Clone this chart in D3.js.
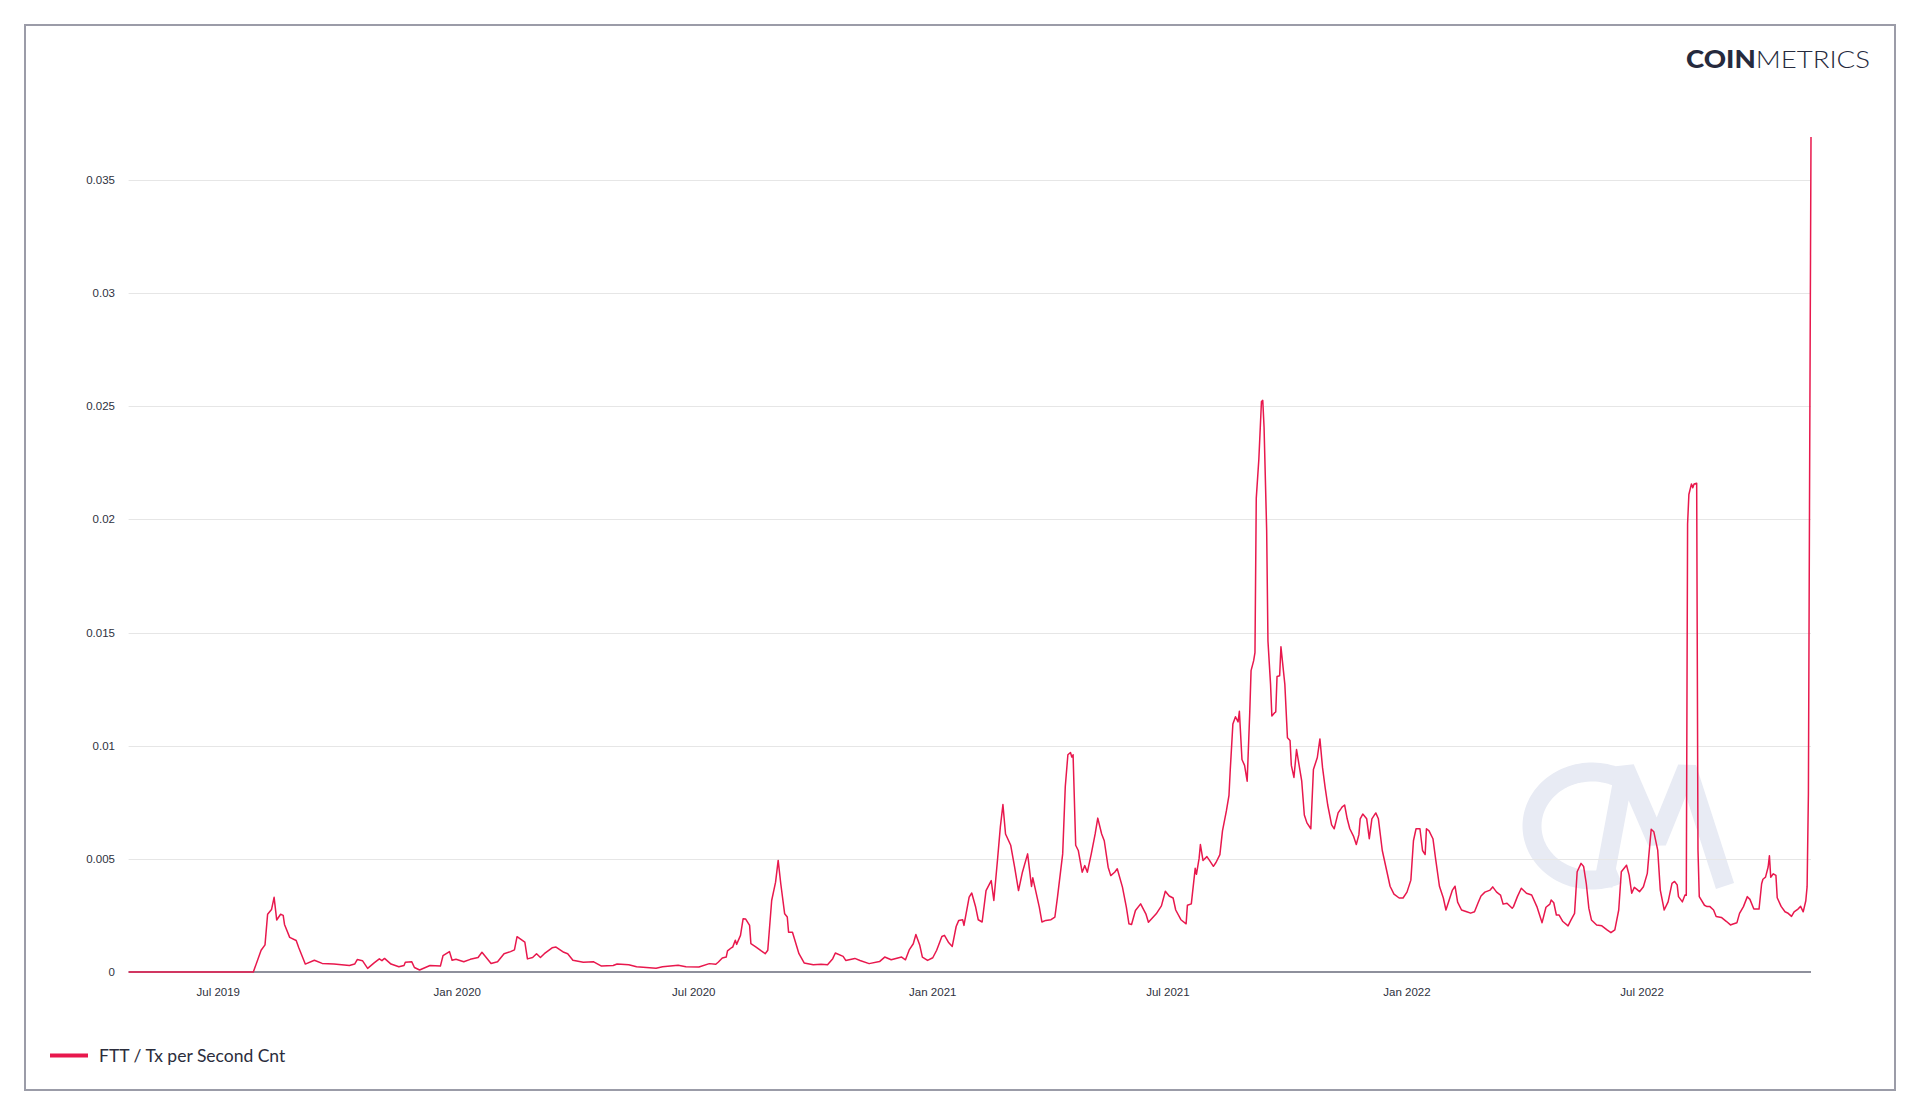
<!DOCTYPE html>
<html>
<head>
<meta charset="utf-8">
<script src="https://cdn.jsdelivr.net/npm/d3@7"></script>
<style>
  html, body { margin: 0; padding: 0; background: #ffffff; }
  svg { display: block; }
</style>
</head>
<body>
<svg id="chart" width="1920" height="1115"></svg>
<script>
// ---- DATA ----
const seriesName = "FTT / Tx per Second Cnt";
const baseDate = "2019-07-01"; // day offsets below are counted from this date
const dayOffsets = [
  -69, 27, 33, 36, 38, 41, 43, 45, 48, 50, 51, 55, 60, 62, 67, 74, 80, 89, 101, 105,
  107, 111, 115, 120, 124, 126, 128, 133, 139, 143, 144, 149, 151, 155, 163, 171, 173, 178, 180, 183,
  189, 194, 200, 203, 210, 215, 220, 225, 228, 230, 236, 238, 242, 245, 248, 251, 257, 260, 266, 269,
  273, 281, 289, 295, 304, 307, 316, 322, 337, 342, 354, 360, 370, 378, 383, 385, 388, 391, 392, 395,
  396, 398, 399, 402, 404, 406, 409, 410, 414, 418, 421, 423, 426, 429, 431, 433, 436, 438, 439, 442,
  447, 451, 458, 464, 469, 473, 475, 481, 483, 490, 494, 501, 509, 513, 518, 526, 529, 532, 535, 537,
  540, 542, 546, 550, 553, 557, 559, 562, 565, 568, 570, 573, 574, 578, 580, 583, 585, 588, 591, 595,
  597, 600, 602, 604, 606, 610, 613, 616, 619, 623, 626, 627, 632, 634, 637, 641, 644, 646, 650, 652,
  654, 656, 657, 658, 660, 662, 665, 667, 669, 672, 675, 677, 680, 682, 685, 687, 690, 692, 696, 699,
  701, 703, 706, 710, 714, 716, 722, 726, 729, 732, 735, 737, 741, 745, 746, 749, 752, 753, 755, 756,
  758, 761, 763, 766, 768, 771, 773, 776, 778, 779, 781, 783, 785, 786, 788, 790, 792, 794, 795, 797,
  798, 799, 801, 803, 804, 805, 807, 808, 810, 811, 813, 814, 815, 817, 818, 821, 823, 825, 826, 828,
  830, 832, 834, 836, 838, 841, 843, 846, 848, 850, 852, 854, 857, 859, 862, 864, 865, 867, 869, 871,
  874, 876, 878, 879, 881, 884, 886, 888, 891, 893, 896, 900, 902, 905, 909, 912, 915, 918, 920, 922,
  925, 927, 929, 930, 932, 935, 937, 940, 943, 945, 948, 950, 952, 954, 957, 961, 964, 967, 970, 972,
  975, 979, 981, 984, 987, 989, 992, 996, 997, 1000, 1003, 1007, 1011, 1015, 1019, 1022, 1025, 1026, 1028, 1030,
  1032, 1035, 1039, 1041, 1044, 1046, 1049, 1051, 1053, 1055, 1057, 1061, 1065, 1069, 1072, 1075, 1078, 1080, 1084, 1086,
  1088, 1090, 1092, 1094, 1097, 1100, 1101, 1103, 1105, 1108, 1110, 1113, 1116, 1119, 1121, 1123, 1124, 1127, 1129, 1130,
  1131, 1132, 1134, 1135, 1136, 1138, 1139, 1140, 1144, 1146, 1148, 1151, 1153, 1157, 1161, 1164, 1166, 1169, 1171, 1174,
  1177, 1179, 1182, 1186, 1188, 1189, 1191, 1193, 1194, 1195, 1197, 1199, 1200, 1203, 1206, 1208, 1211, 1213, 1216, 1218,
  1220, 1222, 1223, 1224, 1225, 1226
];
const values = [
  0, 0, 0.00096, 0.0012, 0.00255, 0.00276, 0.0033, 0.0023, 0.00255, 0.0025, 0.0021, 0.00153, 0.00139, 0.00107, 0.00035, 0.00052, 0.00038, 0.00035, 0.00029, 0.00035,
  0.00055, 0.0005, 0.00016, 0.0004, 0.00058, 0.0005, 0.0006, 0.00035, 0.00023, 0.00029, 0.00043, 0.00045, 0.0002, 0.00009, 0.00029, 0.00026, 0.00072, 0.0009, 0.00052, 0.00056,
  0.00045, 0.00056, 0.00064, 0.00087, 0.00038, 0.00045, 0.00081, 0.0009, 0.00098, 0.00156, 0.00132, 0.00058, 0.00064, 0.00081, 0.00064, 0.00081, 0.00107, 0.0011, 0.00087, 0.00081,
  0.00052, 0.00043, 0.00045, 0.00026, 0.00029, 0.00035, 0.00032, 0.00023, 0.00017, 0.00023, 0.0003, 0.00023, 0.00022, 0.00037, 0.00034, 0.00044, 0.00062, 0.00066, 0.00093, 0.00107,
  0.0011, 0.0014, 0.00122, 0.00162, 0.00235, 0.00234, 0.00206, 0.00125, 0.0011, 0.00093, 0.00081, 0.00096, 0.00316, 0.00397, 0.00493, 0.0039, 0.00257, 0.00243, 0.00176, 0.00176,
  0.00081, 0.0004, 0.00032, 0.00034, 0.00032, 0.00059, 0.00084, 0.00069, 0.00051, 0.0006, 0.00051, 0.00037, 0.00046, 0.00066, 0.00054, 0.00066, 0.00054, 0.00099, 0.00125, 0.00166,
  0.00118, 0.00066, 0.00051, 0.00063, 0.00096, 0.00157, 0.00162, 0.00132, 0.00113, 0.00201, 0.00228, 0.00231, 0.00206, 0.00331, 0.00349, 0.00287, 0.00231, 0.00221, 0.0036, 0.00404,
  0.00316, 0.00507, 0.0064, 0.0074, 0.0061, 0.0056, 0.00463, 0.0036, 0.00441, 0.00522, 0.00378, 0.00416, 0.00287, 0.00221, 0.00228, 0.00231, 0.00243, 0.00331, 0.00522, 0.0082,
  0.0096, 0.0097, 0.0095, 0.0096, 0.0056, 0.00537, 0.00441, 0.0047, 0.00441, 0.00522, 0.0061, 0.0068, 0.0061, 0.0058, 0.00463, 0.00426, 0.00441, 0.00456, 0.00375, 0.00287,
  0.00213, 0.0021, 0.00272, 0.00301, 0.00257, 0.0022, 0.00257, 0.00292, 0.00357, 0.00336, 0.00327, 0.00274, 0.00231, 0.00213, 0.00295, 0.00301, 0.00458, 0.00432, 0.00502, 0.00563,
  0.00493, 0.0051, 0.00493, 0.00467, 0.00484, 0.00519, 0.00624, 0.00712, 0.00781, 0.00895, 0.01096, 0.01128, 0.01105, 0.01152, 0.00939, 0.00913, 0.00843, 0.01149, 0.01332, 0.01376,
  0.01411, 0.02093, 0.02267, 0.02521, 0.02526, 0.02407, 0.01953, 0.01463, 0.01271, 0.01131, 0.01145, 0.01149, 0.01306, 0.01309, 0.01437, 0.01271, 0.01035, 0.01023, 0.00913, 0.0086,
  0.00983, 0.00913, 0.00843, 0.00694, 0.00659, 0.00633, 0.00895, 0.00948, 0.0103, 0.00904, 0.00816, 0.00738, 0.0065, 0.00633, 0.00703, 0.0072, 0.00729, 0.00738, 0.00677, 0.00633,
  0.00598, 0.00563, 0.00607, 0.00677, 0.00698, 0.00677, 0.00589, 0.00677, 0.00703, 0.00677, 0.00537, 0.00432, 0.00379, 0.00344, 0.00327, 0.00327, 0.00353, 0.00406, 0.0058, 0.00633,
  0.00633, 0.00537, 0.00519, 0.00633, 0.00624, 0.00589, 0.00502, 0.00379, 0.00327, 0.00274, 0.00327, 0.00362, 0.00379, 0.00309, 0.00274, 0.00266, 0.0026, 0.00266, 0.00309, 0.00336,
  0.00353, 0.00362, 0.00376, 0.00353, 0.0034, 0.003, 0.00304, 0.00282, 0.00289, 0.00333, 0.0037, 0.00348, 0.0034, 0.00289, 0.00218, 0.00286, 0.003, 0.00318, 0.00306, 0.00252,
  0.00252, 0.00223, 0.00204, 0.00227, 0.00259, 0.00443, 0.0048, 0.00466, 0.00392, 0.00282, 0.0023, 0.00208, 0.00204, 0.00186, 0.00174, 0.00186, 0.00274, 0.00443, 0.00472, 0.00428,
  0.00348, 0.00374, 0.00365, 0.00355, 0.00377, 0.00436, 0.00503, 0.00631, 0.0062, 0.00539, 0.00362, 0.00274, 0.0031, 0.00392, 0.004, 0.00385, 0.00333, 0.0031, 0.0034, 0.00339,
  0.0198, 0.0211, 0.02157, 0.0214, 0.02157, 0.0216, 0.0054, 0.00333, 0.00295, 0.00289, 0.0029, 0.00274, 0.00245, 0.00241, 0.00223, 0.00208, 0.00212, 0.00218, 0.00259, 0.00289,
  0.00333, 0.00321, 0.00278, 0.00278, 0.0039, 0.0041, 0.00419, 0.00464, 0.00514, 0.00419, 0.00434, 0.00427, 0.00328, 0.0029, 0.00266, 0.00261, 0.00246, 0.00266, 0.00278, 0.0029,
  0.00266, 0.00315, 0.00377, 0.00787, 0.0228, 0.0369
];
const yTickValues = [0, 0.005, 0.01, 0.015, 0.02, 0.025, 0.03, 0.035];
const yTickLabels = ["0", "0.005", "0.01", "0.015", "0.02", "0.025", "0.03", "0.035"];
const xTickDates = ["2019-07-01", "2020-01-01", "2020-07-01", "2021-01-01", "2021-07-01", "2022-01-01", "2022-07-01"];
const xTickLabels = ["Jul 2019", "Jan 2020", "Jul 2020", "Jan 2021", "Jul 2021", "Jan 2022", "Jul 2022"];

// ---- CHART ----
const svg = d3.select("#chart");
const parse = d3.utcParse("%Y-%m-%d");
const base = parse(baseDate);
const data = dayOffsets.map((d, i) => ({ date: d3.utcDay.offset(base, d), value: values[i] }));

const plot = { left: 128.6, right: 1811, zeroY: 972, topY: 180 };
const x = d3.scaleUtc()
  .domain(d3.extent(data, d => d.date))
  .range([plot.left, plot.right]);
const y = d3.scaleLinear().domain([0, 0.035]).range([plot.zeroY, plot.topY]);

// frame
svg.append("rect")
  .attr("x", 25).attr("y", 25).attr("width", 1870).attr("height", 1065)
  .attr("fill", "#fff").attr("stroke", "#9b9ca8").attr("stroke-width", 2);

// watermark "CM"
const wm = svg.append("g").attr("fill", "none").attr("stroke", "#e8ebf4").attr("stroke-width", 19);
const cx = 1592, cy = 826, rx = 60, ry = 54;
const arcPts = d3.range(62, 299, 3).map(a => {
  const t = a * Math.PI / 180;
  return [cx + rx * Math.cos(t), cy - ry * Math.sin(t)];
});
wm.append("path").attr("d", d3.line()(arcPts));
wm.append("path")
  .attr("stroke-linejoin", "bevel")
  .attr("d", d3.line()([[1603, 886], [1625, 768], [1657, 842], [1687, 768], [1725, 886]]));

// grid lines
svg.append("g").selectAll("line")
  .data(yTickValues.filter(v => v > 0))
  .join("line")
  .attr("x1", plot.left).attr("x2", plot.right)
  .attr("y1", d => Math.round(y(d)) + 0.5).attr("y2", d => Math.round(y(d)) + 0.5)
  .attr("stroke", "#e6e6e6").attr("stroke-width", 1);

// y labels
svg.append("g").selectAll("text")
  .data(yTickValues)
  .join("text")
  .attr("x", 115).attr("y", d => y(d)).attr("dy", "0.35em")
  .attr("text-anchor", "end")
  .attr("font-family", "'Liberation Sans', Arial, sans-serif")
  .attr("font-size", 11.5)
  .attr("fill", "#2e3140")
  .text((d, i) => yTickLabels[i]);

// x axis line
svg.append("line")
  .attr("x1", plot.left).attr("x2", plot.right)
  .attr("y1", plot.zeroY).attr("y2", plot.zeroY)
  .attr("stroke", "#8e909c").attr("stroke-width", 2);

// x labels
svg.append("g").selectAll("text")
  .data(xTickDates)
  .join("text")
  .attr("x", d => x(parse(d))).attr("y", 996)
  .attr("text-anchor", "middle")
  .attr("font-family", "'Liberation Sans', Arial, sans-serif")
  .attr("font-size", 11.5)
  .attr("fill", "#2e3140")
  .text((d, i) => xTickLabels[i]);

// data line
svg.append("path")
  .datum(data)
  .attr("fill", "none")
  .attr("stroke", "#e8184d")
  .attr("stroke-width", 1.5)
  .attr("stroke-linejoin", "round")
  .attr("d", d3.line().x(d => x(d.date)).y(d => y(d.value)));

// legend
svg.append("line")
  .attr("x1", 50).attr("x2", 88).attr("y1", 1055.5).attr("y2", 1055.5)
  .attr("stroke", "#e8184d").attr("stroke-width", 4);
svg.append("text")
  .attr("x", 99).attr("y", 1056).attr("dy", "0.35em")
  .attr("font-family", "Lato, sans-serif").attr("font-size", 17.5)
  .attr("fill", "#2b2d3c")
  .text(seriesName);

// logo
const logo = svg.append("text")
  .attr("x", 1686).attr("y", 68)
  .attr("font-family", "Lato, sans-serif").attr("font-size", 24)
  .attr("fill", "#262a3d")
  .attr("textLength", 184).attr("lengthAdjust", "spacingAndGlyphs");
logo.append("tspan").attr("font-weight", 900).text("COIN");
logo.append("tspan").attr("font-weight", 300).text("METRICS");
</script>
</body>
</html>
